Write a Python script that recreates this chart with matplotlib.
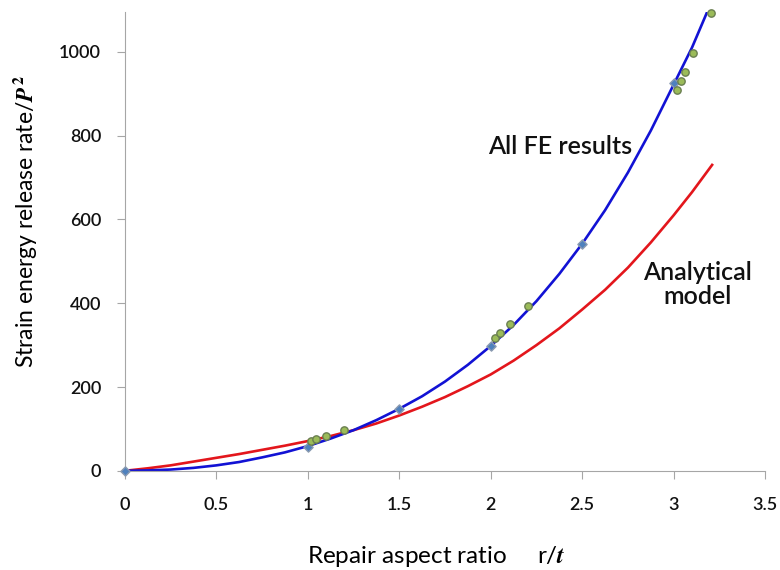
import matplotlib
matplotlib.use("Agg")
import matplotlib.pyplot as plt

plt.rcParams['font.family'] = ['Lato', 'DejaVu Sans']
plt.rcParams['font.weight'] = 'semibold'
plt.rcParams['mathtext.fontset'] = 'stix'

# Analytical model curve
model_x = [0, 0.125, 0.25, 0.375, 0.5, 0.625, 0.75, 0.875, 1.0, 1.125, 1.25, 1.375, 1.5,
           1.625, 1.75, 1.875, 2.0, 2.125, 2.25, 2.375, 2.5, 2.625, 2.75, 2.875, 3.0, 3.1, 3.21]
model_y = [0, 6, 13, 22, 31, 40, 50, 60, 71, 83, 97, 113, 132,
           153, 176, 202, 230, 263, 300, 340, 385, 432, 485, 545, 610, 665, 730]

# fitted curve through all FE results
fit_x = [0, 0.125, 0.25, 0.375, 0.5, 0.625, 0.75, 0.875, 1.0, 1.125, 1.25, 1.375, 1.5,
         1.625, 1.75, 1.875, 2.0, 2.125, 2.25, 2.375, 2.5, 2.625, 2.75, 2.875, 3.0, 3.1, 3.18]
fit_y = [0, 1, 3, 7, 13, 21, 32, 44, 59, 77, 97, 121, 148,
         178, 213, 253, 298, 348, 405, 470, 542, 622, 712, 812, 922, 1010, 1092]

# FE results, blue diamonds
fe_x = [0, 1.0, 1.5, 2.0, 2.5, 3.0]
fe_y = [0, 58, 148, 297, 542, 925]

# FE results, green circles
fe2_x = [1.02, 1.045, 1.1, 1.2, 2.023, 2.05, 2.105, 2.205, 3.02, 3.04, 3.062, 3.107, 3.205]
fe2_y = [70, 76, 83, 98, 317, 330, 351, 394, 909, 930, 951, 997, 1092]

fig = plt.figure(figsize=(7.8, 5.7), dpi=100)
ax = fig.add_axes([0.160, 0.174, 0.821, 0.805])

ax.plot(model_x, model_y, color='#e3161c', lw=1.9)
ax.plot(fit_x, fit_y, color='#1212d4', lw=1.9)
ax.scatter(fe_x, fe_y, marker='D', s=22, color='#4f81bd', edgecolor='#8a9ab0',
           zorder=3, clip_on=False)
ax.scatter(fe2_x, fe2_y, marker='o', s=28, color='#9bbb59', edgecolor='#6a7f50',
           zorder=4, clip_on=False)

ax.text(2.379, 773, 'All FE results', fontsize=18, ha='center', va='center',
        color='#111111')
ax.text(3.128, 444, 'Analytical\nmodel', fontsize=18, ha='center', va='center',
        linespacing=1.05, color='#111111')

ax.set_xlim(0, 3.5)
ax.set_ylim(0, 1095)
ax.set_xticks([0, 0.5, 1, 1.5, 2, 2.5, 3, 3.5])
ax.set_xticklabels(['0', '0.5', '1', '1.5', '2', '2.5', '3', '3.5'])
ax.set_yticks([0, 200, 400, 600, 800, 1000])

for side in ['top', 'right']:
    ax.spines[side].set_visible(False)
for side in ['left', 'bottom']:
    ax.spines[side].set_color('#a6a6a6')
ax.tick_params(axis='both', colors='#a6a6a6', labelcolor='#111111', labelsize=13,
               length=6)
ax.tick_params(axis='x', pad=13)
ax.tick_params(axis='y', pad=11)

ax.set_xlabel('Repair aspect ratio     r/$\\mathit{t}$', fontsize=17.5, va='center')
ax.xaxis.set_label_coords(0.486, -0.187)
ax.set_ylabel('Strain energy release rate/$\\mathit{P}^2$', fontsize=16.5, va='center')
ax.yaxis.set_label_coords(-0.156, 0.542)

fig.savefig('out.png', dpi=100)
